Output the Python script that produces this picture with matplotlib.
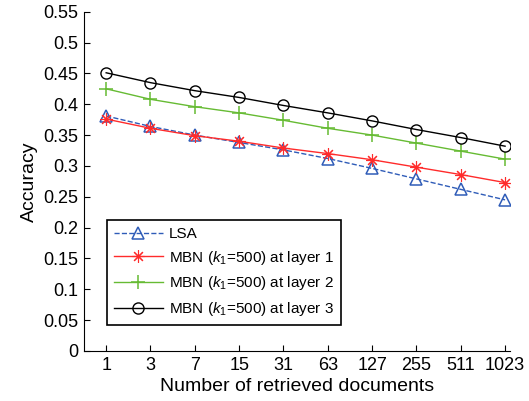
import matplotlib
matplotlib.use("Agg")
from matplotlib import pyplot as plt

plt.rcParams['font.family'] = ['Liberation Sans', 'DejaVu Sans']
plt.rcParams['mathtext.fontset'] = 'custom'
plt.rcParams['mathtext.rm'] = 'Liberation Sans'
plt.rcParams['mathtext.it'] = 'Liberation Sans:italic'

docs = ['1', '3', '7', '15', '31', '63', '127', '255', '511', '1023']

lsa = [0.381, 0.364, 0.350, 0.338, 0.326, 0.312, 0.296, 0.279, 0.262, 0.245]
layer1 = [0.376, 0.361, 0.349, 0.340, 0.329, 0.320, 0.310, 0.298, 0.286, 0.273]
layer2 = [0.425, 0.408, 0.396, 0.386, 0.374, 0.361, 0.350, 0.337, 0.324, 0.311]
layer3 = [0.451, 0.435, 0.422, 0.411, 0.398, 0.386, 0.373, 0.359, 0.346, 0.332]

xs = list(range(len(docs)))

fig = plt.figure(figsize=(5.29, 4.01), dpi=100)
ax = fig.add_axes([0.1588, 0.1247, 0.8052, 0.8461])

ax.plot(xs, lsa, '--', color='#2f5cb8', lw=1, marker='^', ms=8,
        mfc='none', mew=1.1, label='LSA')
# 8-armed asterisk marker
ax.plot(xs, layer1, '-', color='#ff2b2b', lw=1, marker=(8, 2, 0), ms=9,
        mew=0.8, label=r'MBN ($k_1$=500) at layer 1')
ax.plot(xs, layer2, '-', color='#66bb33', lw=1, marker='+', ms=10,
        mew=1.1, label=r'MBN ($k_1$=500) at layer 2')
ax.plot(xs, layer3, '-', color='black', lw=1, marker='o', ms=8,
        mfc='none', mew=1, label=r'MBN ($k_1$=500) at layer 3')

ax.set_xlim(-0.5, 9.11)
ax.set_ylim(0, 0.55)
ax.set_xticks(xs)
ax.set_xticklabels(docs)
yt = [i * 0.05 for i in range(12)]
ax.set_yticks(yt)
ax.set_yticklabels(['0', '0.05', '0.1', '0.15', '0.2', '0.25', '0.3', '0.35',
                    '0.4', '0.45', '0.5', '0.55'])

ax.spines['top'].set_visible(False)
ax.spines['right'].set_visible(False)
ax.tick_params(direction='in', length=4, labelsize=13, width=0.8, pad=4)

ax.set_xlabel('Number of retrieved documents', fontsize=14, labelpad=3)
ax.set_ylabel('Accuracy', fontsize=14, labelpad=4)

leg = ax.legend(loc='lower left', bbox_to_anchor=(0.054, 0.077),
                fontsize=11, frameon=True, fancybox=False,
                edgecolor='black', framealpha=1, handlelength=3.2,
                borderaxespad=0, labelspacing=0.5, handletextpad=0.4,
                borderpad=0.45)
leg.get_frame().set_linewidth(1.2)

fig.savefig('out.png', dpi=100)
